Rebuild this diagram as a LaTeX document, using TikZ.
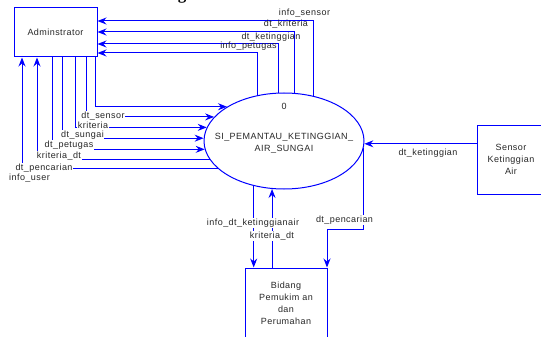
\documentclass[tikz,border=0pt]{standalone}
\usepackage{fontspec}
\setmainfont{Liberation Sans}[LetterSpace=5]
\newfontfamily\headfont{Liberation Serif}
\usetikzlibrary{arrows.meta,shapes.geometric}
\begin{document}
\begin{tikzpicture}[x=1pt,y=1pt,
  flow/.style={draw=blue, line width=1pt, -{Stealth[length=9pt,width=7pt,inset=3pt]}},
  entity/.style={draw=blue, line width=1pt, rectangle, inner sep=0pt, align=center,
    font=\fontsize{9}{12}\selectfont, text=black!85},
  proc/.style={draw=blue, line width=1pt, ellipse, minimum width=160pt, minimum height=96pt, inner sep=0pt},
  txt/.style={font=\fontsize{9}{12}\selectfont, text=black!85, inner sep=0pt, align=center},
  lab/.style={txt, fill=white, inner sep=0.6pt},
]
\useasboundingbox (0,0) rectangle (541,-337);

% heading (only its lower edge lies on the page)
\node[font=\headfont\bfseries\fontsize{17}{17}\selectfont, anchor=base, inner sep=0pt] (head) at (182,0.5) {g};

% external entities
\node[entity, minimum width=83pt, minimum height=49pt] (admin) at (55.5,-32.5) {Adminstrator};
\node[entity, minimum width=68pt, minimum height=69pt] (sensor) at (511,-159.5) {Sensor\\Ketinggian\\Air};
\node[entity, minimum width=82pt, minimum height=71pt] (bidang) at (286,-303.5) {Bidang\\Pemukim an\\dan\\Perumahan};

% process
\node[proc] (e) at (284,-141) {};
\node[txt] (eid) at (284,-106) {0};
\node[txt] (ename) at (284,-143) {SI\_PEMANTAU\_KETINGGIAN\_\\AIR\_SUNGAI};

% process -> administrator (upper loops)
\draw[flow] (e.57) |- (admin.east |- 0,-21);
\draw[flow] (e.78) |- (admin.east |- 0,-32);
\draw[flow] (e.96) |- (admin.east |- 0,-44);
\draw[flow] (e.120) |- (admin.east |- 0,-53);

% administrator -> process
\draw[flow] (admin.south -| 95,0) |- (e.149);
\draw[flow] (admin.south -| 86,0) |- (e.161);
\draw[flow] (admin.south -| 75,0) |- (e.170);
\draw[flow] (admin.south -| 62,0) |- (e.178);
\draw[flow] (admin.south -| 52,0) |- (e.186);

% process -> administrator (lower loops)
\draw[flow] (e.194) -| (admin.south -| 37,0);
\draw[flow] (e.203) -| (admin.south -| 22,0);

% sensor -> process
\draw[flow] (sensor.west |- e.358) -- (e.358);

% process <-> bidang
\coordinate (pcorner) at (327,-229);
\draw[flow] (e.236) -- (e.236 |- bidang.north);
\draw[flow] (bidang.north -| e.256) -- (e.256);
\draw[flow] (e.355) |- (pcorner) -- (pcorner |- bidang.north);

% flow labels
\node[txt] (l1) at (304.5,-13) {info\_sensor};
\node[txt] (l2) at (286,-24) {dt\_kriteria};
\node[txt] (l3) at (271,-37) {dt\_ketinggian};
\node[txt] (l4) at (248.5,-46) {info\_petugas};

\node[lab] (l5) at (103,-116) {dt\_sensor};
\node[lab] (l6) at (93,-125) {kriteria};
\node[lab] (l7) at (82.5,-135) {dt\_sungai};
\node[lab] (l8) at (69,-145) {dt\_petugas};
\node[lab] (l9) at (59,-156) {kriteria\_dt};
\node[lab] (l10) at (44,-168) {dt\_pencarian};
\node[lab] (l11) at (29.5,-178) {info\_user};

\node[txt] (l12) at (428,-153) {dt\_ketinggian};

\node[lab] (l13) at (253,-223) {info\_dt\_ketinggianair};
\node[lab] (l14) at (272,-236) {kriteria\_dt};
\node[lab] (l15) at (344.5,-220) {dt\_pencarian};
\end{tikzpicture}
\end{document}
